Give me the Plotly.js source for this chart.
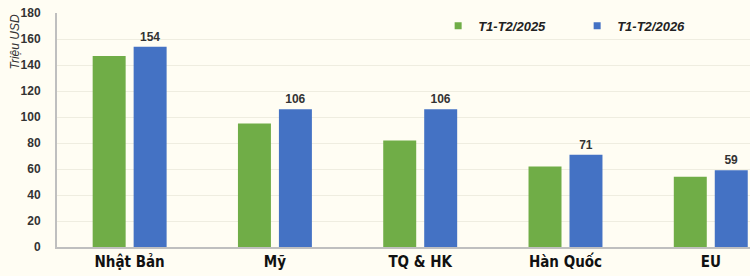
<!DOCTYPE html>
<html>
<head>
<meta charset="utf-8">
<script src="https://cdn.plot.ly/plotly-3.0.1.min.js"></script>
<style>
html,body{margin:0;padding:0;background:#fffdf3;}
#chart{width:750px;height:276px;}
</style>
</head>
<body>
<div id="chart"></div>
<script>
var categories = ["Nhật Bản", "Mỹ", "TQ & HK", "Hàn Quốc", "EU"];
var seriesNames = ["T1-T2/2025", "T1-T2/2026"];
var values2025 = [147, 95, 82, 62, 54];
var values2026 = [154, 106, 106, 71, 59];
var yTicks = [0, 20, 40, 60, 80, 100, 120, 140, 160, 180];

var green = "#70ad47", blue = "#4472c4";

var traces = [
  {type: "bar", x: categories, y: values2025, name: seriesNames[0],
   marker: {color: green}, showlegend: false, hoverinfo: "y"},
  {type: "bar", x: categories, y: values2026, name: seriesNames[1],
   marker: {color: blue}, showlegend: false,
   text: values2026.map(String), textposition: "outside", cliponaxis: false,
   textfont: {family: "Liberation Sans, Arial, sans-serif", size: 12, color: "#333333", weight: "bold"}},
  {type: "scatter", mode: "markers", x: [categories[0]], y: [null], name: seriesNames[0],
   marker: {symbol: "square", size: 7, color: green}, hoverinfo: "skip"},
  {type: "scatter", mode: "markers", x: [categories[0]], y: [null], name: seriesNames[1],
   marker: {symbol: "square", size: 7, color: blue}, hoverinfo: "skip"}
];

var layout = {
  width: 750, height: 276,
  margin: {l: 57, r: 0, t: 13, b: 29, pad: 0, autoexpand: false},
  paper_bgcolor: "#fffdf3", plot_bgcolor: "#fffdf3",
  barmode: "group", bargap: 0.436, bargroupgap: 0.195,
  showlegend: true,
  legend: {orientation: "h", xref: "paper", x: 0.55, y: 0.945, xanchor: "left", yanchor: "middle",
           bgcolor: "rgba(0,0,0,0)", entrywidth: 94, entrywidthmode: "pixels",
           font: {family: "Liberation Sans, Arial, sans-serif", size: 13, color: "#222222", weight: "bold", style: "italic"},
           itemwidth: 30},
  xaxis: {type: "category", autorange: false, range: [-0.5, 4.27], showgrid: false, zeroline: false,
          showline: true, linecolor: "#bfbfbf", linewidth: 2, ticks: "",
          tickfont: {family: "DejaVu Sans Condensed, Liberation Sans Narrow, sans-serif", size: 15, color: "#111111", weight: "bold"},
          fixedrange: true},
  yaxis: {autorange: false, range: [0, 180], tickvals: yTicks, showgrid: true, gridcolor: "#efede0", gridwidth: 1,
          zeroline: false, showline: true, linecolor: "#bfbfbf", linewidth: 2,
          ticks: "outside", ticklen: 12, tickcolor: "rgba(0,0,0,0)",
          tickfont: {family: "Liberation Sans, Arial, sans-serif", size: 12, color: "#333333", weight: "bold"},
          fixedrange: true},
  annotations: [
    {text: "Triệu USD", xref: "paper", yref: "paper", x: -0.062, y: 1.0, xanchor: "center", yanchor: "top",
     textangle: -90, showarrow: false,
     font: {family: "Liberation Sans, Arial, sans-serif", size: 12, color: "#333333", style: "italic"}}
  ]
};

Plotly.newPlot("chart", traces, layout, {displayModeBar: false, staticPlot: true});
</script>
</body>
</html>
